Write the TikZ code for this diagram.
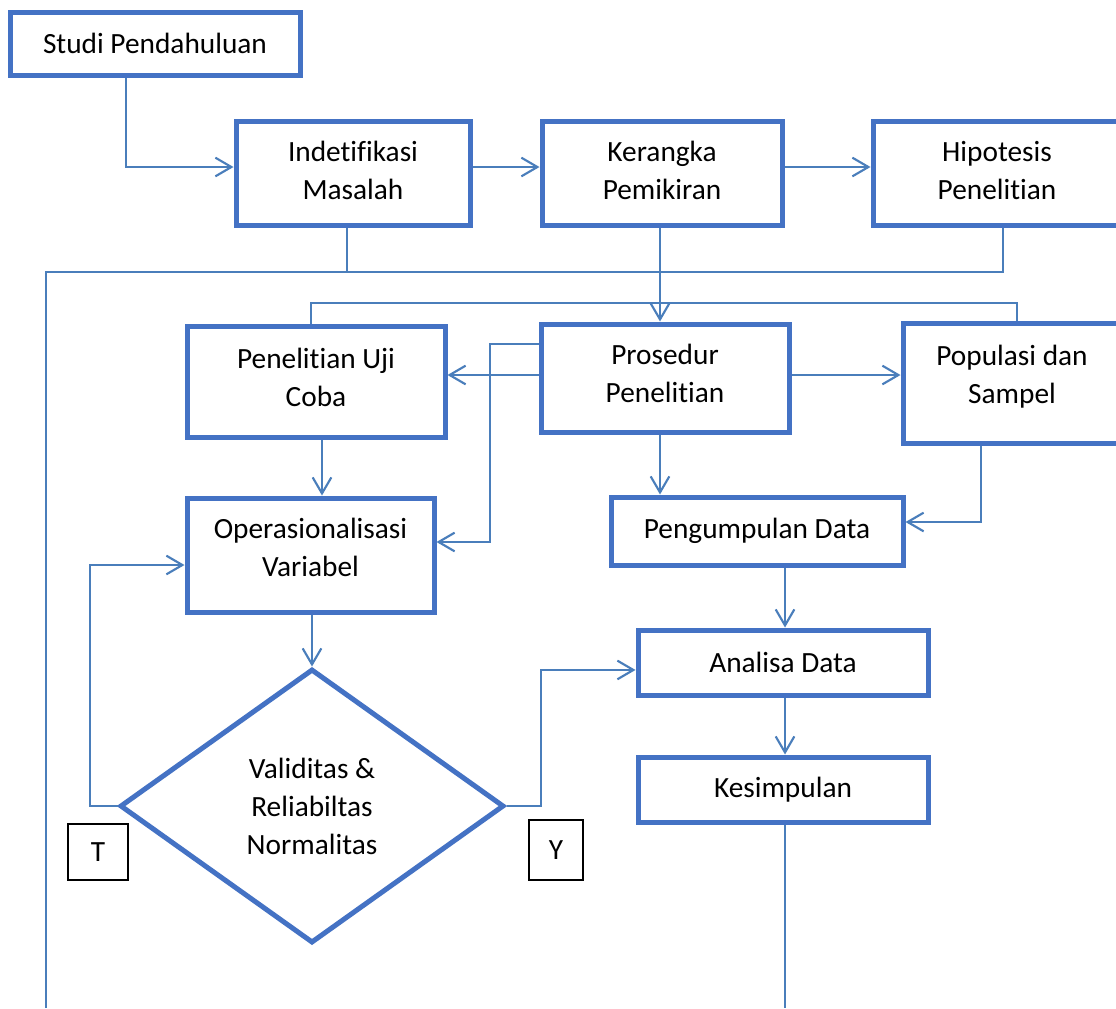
\documentclass[tikz,border=0pt]{standalone}
\usepackage{fontspec}
\setmainfont{Carlito}[Ligatures={NoCommon,NoRequired,NoContextual,NoRare},RawFeature={-liga;-clig;-calt;-dlig;-rlig}]
\usetikzlibrary{arrows.meta,shapes.geometric}
\definecolor{boxblue}{HTML}{4472C4}
\definecolor{linkblue}{HTML}{4A7EBB}
\tikzset{
  stepbox/.style={draw=boxblue, line width=3.75pt, fill=white, inner sep=0pt,
    align=center, font=\fontsize{22}{28.5}\selectfont},
  decision/.style={stepbox, diamond},
  tag/.style={draw=black, line width=0.9pt, inner sep=0pt, font=\fontsize{22}{28.5}\selectfont},
  conn/.style={draw=linkblue, line width=1.6pt},
  arr/.style={conn, -{Straight Barb[length=12pt,width=14pt]}}
}
\begin{document}
\begin{tikzpicture}[x=0.75pt,y=-0.75pt]
\useasboundingbox (0,0) rectangle (1116,1008);
\clip (0,0) rectangle (1116,1008);
\fill[white] (0,0) rectangle (1116,1008);

% boxes
\node[stepbox, minimum width=217.5pt, minimum height=47.25pt] (studi) at (155,43.5) {Studi Pendahuluan};
\node[stepbox, minimum width=175.5pt, minimum height=78pt] (ident) at (353,173) {Indetifikasi\\Masalah\\[-24pt]};
\node[stepbox, minimum width=180pt, minimum height=78pt] (kerangka) at (662,173) {Kerangka\\Pemikiran\\[-24pt]};
\node[stepbox, minimum width=186pt, minimum height=78pt] (hipo) at (997,173) {Hipotesis\\Penelitian\\[-24pt]};
\node[stepbox, minimum width=193.5pt, minimum height=83.25pt] (ujicoba) at (316,381.5) {Penelitian Uji\\Coba\\[-22pt]};
\node[stepbox, minimum width=186pt, minimum height=81pt] (prosedur) at (665,378) {Prosedur\\Penelitian\\[-22pt]};
\node[stepbox, minimum width=163.5pt, minimum height=90pt] (populasi) at (1012,383) {Populasi dan\\Sampel\\[-15pt]};
\node[stepbox, minimum width=185.25pt, minimum height=85.5pt] (operas) at (310.5,555) {Operasionalisasi\\Variabel\\[-17pt]};
\node[stepbox, minimum width=219pt, minimum height=51pt] (kumpul) at (757,531) {Pengumpulan Data};
\node[stepbox, minimum width=217.5pt, minimum height=48.75pt] (analisa) at (783,662.5) {Analisa Data};
\node[stepbox, minimum width=217.5pt, minimum height=48.75pt] (simpul) at (783,789.5) {Kesimpulan};
\node[decision, minimum width=288pt, minimum height=205.5pt] (dia) at (312,806) {Validitas \&\\Reliabiltas\\Normalitas};
\node[tag, minimum width=45pt, minimum height=42pt] (tagT) at (98,852) {T};
\node[tag, minimum width=40.5pt, minimum height=45pt] (tagY) at (556,850) {Y};

% helper coordinates
\coordinate (j1) at (46,272);
\coordinate (bl) at (46,1008);
\coordinate (j2) at (311,303);
\coordinate (j3) at (1017,303);
\coordinate (j4) at (490,344);
\coordinate (j5) at (90,0);
\coordinate (j6) at (541,0);
\coordinate (b2) at (785,1008);

% connectors
\draw[arr] ([xshift=-21.75pt]studi.south) |- ([yshift=4.5pt]ident.west);
\draw[arr] ([yshift=4.5pt]ident.east) -- ([yshift=4.5pt]kerangka.west);
\draw[arr] ([yshift=4.5pt]kerangka.east) -- ([yshift=4.5pt]hipo.west);
\draw[conn] ([xshift=-4.5pt]ident.south) -- ([xshift=-4.5pt]ident.south |- j1);
\draw[conn] (bl) -- (j1) -| ([xshift=4.5pt]hipo.south);
\draw[arr] ([xshift=-1.5pt]kerangka.south) -- ([xshift=-1.5pt]kerangka.south |- prosedur.north);
\draw[conn] (ujicoba.north -| j2) -- (j2) -- (j3) -- (j3 |- populasi.north);
\draw[arr] ([yshift=2.25pt]prosedur.west) -- ([yshift=2.25pt]prosedur.west -| ujicoba.east);
\draw[arr] ([yshift=2.25pt]prosedur.east) -- ([yshift=2.25pt]prosedur.east -| populasi.west);
\draw[arr] (prosedur.west |- j4) -- (j4) |- ([yshift=9.75pt]operas.east);
\draw[arr] ([xshift=-3.75pt]prosedur.south) -- ([xshift=-3.75pt]prosedur.south |- kumpul.north);
\draw[arr] ([xshift=-23.25pt]populasi.south) |- ([yshift=6.75pt]kumpul.east);
\draw[arr] ([xshift=4.5pt]ujicoba.south) -- ([xshift=4.5pt]ujicoba.south |- operas.north);
\draw[arr] (operas.south -| dia.north) -- (dia.north);
\draw[arr] (dia.west) -- (dia.west -| j5) |- ([yshift=-7.5pt]operas.west);
\draw[arr] (dia.east) -- (dia.east -| j6) |- ([yshift=-5.6pt]analisa.west);
\draw[arr] ([xshift=21pt]kumpul.south) -- ([xshift=21pt]kumpul.south |- analisa.north);
\draw[arr] ([xshift=1.5pt]analisa.south) -- ([xshift=1.5pt]analisa.south |- simpul.north);
\draw[conn] ([xshift=1.5pt]simpul.south) -- (b2);
\end{tikzpicture}
\end{document}
